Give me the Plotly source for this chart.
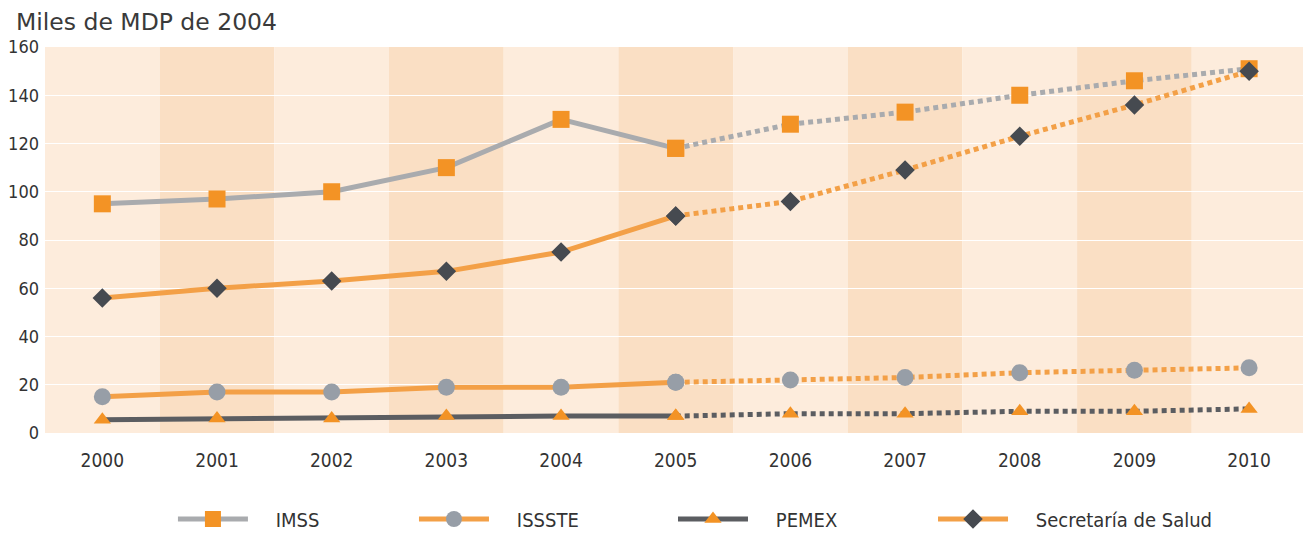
import plotly.graph_objects as go

years = [2000, 2001, 2002, 2003, 2004, 2005, 2006, 2007, 2008, 2009, 2010]
imss = [95, 97, 100, 110, 130, 118, 128, 133, 140, 146, 151]
issste = [15, 17, 17, 19, 19, 21, 22, 23, 25, 26, 27]
pemex = [5.5, 6, 6, 7, 7, 7, 8, 8, 9, 9, 10]
salud = [56, 60, 63, 67, 75, 90, 96, 109, 123, 136, 150]
y_ticks = [0, 20, 40, 60, 80, 100, 120, 140, 160]
split_year = 2005

ORANGE = "#F39325"
ORANGE_LINE = "#F3A047"
GRAY_LINE = "#A9ABAE"
GRAY_MARK = "#979EA7"
DARK_LINE = "#5B5D61"
DARK_MARK = "#464A50"
FONT = "DejaVu Sans Condensed"
PAD = "\u00a0" * 4

series = [
    ("IMSS", imss, GRAY_LINE, 5, "square", 17, ORANGE),
    ("ISSSTE", issste, ORANGE_LINE, 5, "circle", 17, GRAY_MARK),
    ("PEMEX", pemex, DARK_LINE, 5, "triangle-up", 15, ORANGE),
    ("Secretaría de Salud", salud, ORANGE_LINE, 5, "diamond", 15, DARK_MARK),
]
legend_ids = ["legend", "legend2", "legend3", "legend4"]
legend_x = [0.1017, 0.2933, 0.4992, 0.7059]

fig = go.Figure()
k = years.index(split_year)
for (name, vals, lc, lw, sym, ms, mc), lid in zip(series, legend_ids):
    fig.add_trace(go.Scatter(
        x=years[:k + 1], y=vals[:k + 1], mode="lines+markers", name=PAD + name,
        line=dict(color=lc, width=lw),
        marker=dict(symbol=sym, size=ms, color=mc),
        legendgroup=name, showlegend=True, legend=lid,
    ))
    fig.add_trace(go.Scatter(
        x=years[k:], y=vals[k:], mode="lines+markers", name=name,
        line=dict(color=lc, width=lw, dash="5px,4px"),
        marker=dict(symbol=sym, size=ms, color=mc),
        legendgroup=name, showlegend=False, legend=lid,
    ))

# alternating year bands
shapes = []
for i, yr in enumerate(years):
    shapes.append(dict(
        type="rect", xref="x", yref="paper", x0=yr - 0.5, x1=yr + 0.5, y0=0, y1=1,
        fillcolor="#FDECDC" if i % 2 == 0 else "#FADFC4", line=dict(width=0), layer="below",
    ))

legend_common = dict(
    orientation="h", xanchor="left", y=-0.2228, yanchor="middle",
    font=dict(size=20, color="#333333", family=FONT),
    itemwidth=70, bgcolor="rgba(0,0,0,0)",
)
legend_layout = {lid: dict(legend_common, x=lx) for lid, lx in zip(legend_ids, legend_x)}

fig.update_layout(
    width=1303, height=560,
    margin=dict(l=37, r=8, t=39, b=135),
    paper_bgcolor="white", plot_bgcolor="white",
    shapes=shapes,
    font=dict(family=FONT, color="#333333", size=18),
    showlegend=True,
    annotations=[dict(
        text="Miles de MDP de 2004", xref="paper", yref="paper", x=-0.0246, y=1.0,
        xanchor="left", yanchor="middle", yshift=25, showarrow=False,
        font=dict(size=23.5, color="#3A3A3A", family="DejaVu Sans"),
    )],
    **legend_layout,
)
fig.update_xaxes(
    range=[1999.5, 2010.47], tickmode="array", tickvals=years,
    ticktext=[str(y) for y in years], showgrid=False, zeroline=False,
    showline=False, ticks="", tickfont=dict(size=19), ticklabelstandoff=14,
    automargin=False,
)
fig.update_yaxes(
    range=[0, 160], tickmode="array", tickvals=y_ticks, showgrid=True,
    gridcolor="white", gridwidth=1.2, zeroline=False, showline=False,
    ticks="", tickfont=dict(size=18), layer="below traces", automargin=False,
    ticklabelstandoff=5,
)
fig.write_html("out.html")
